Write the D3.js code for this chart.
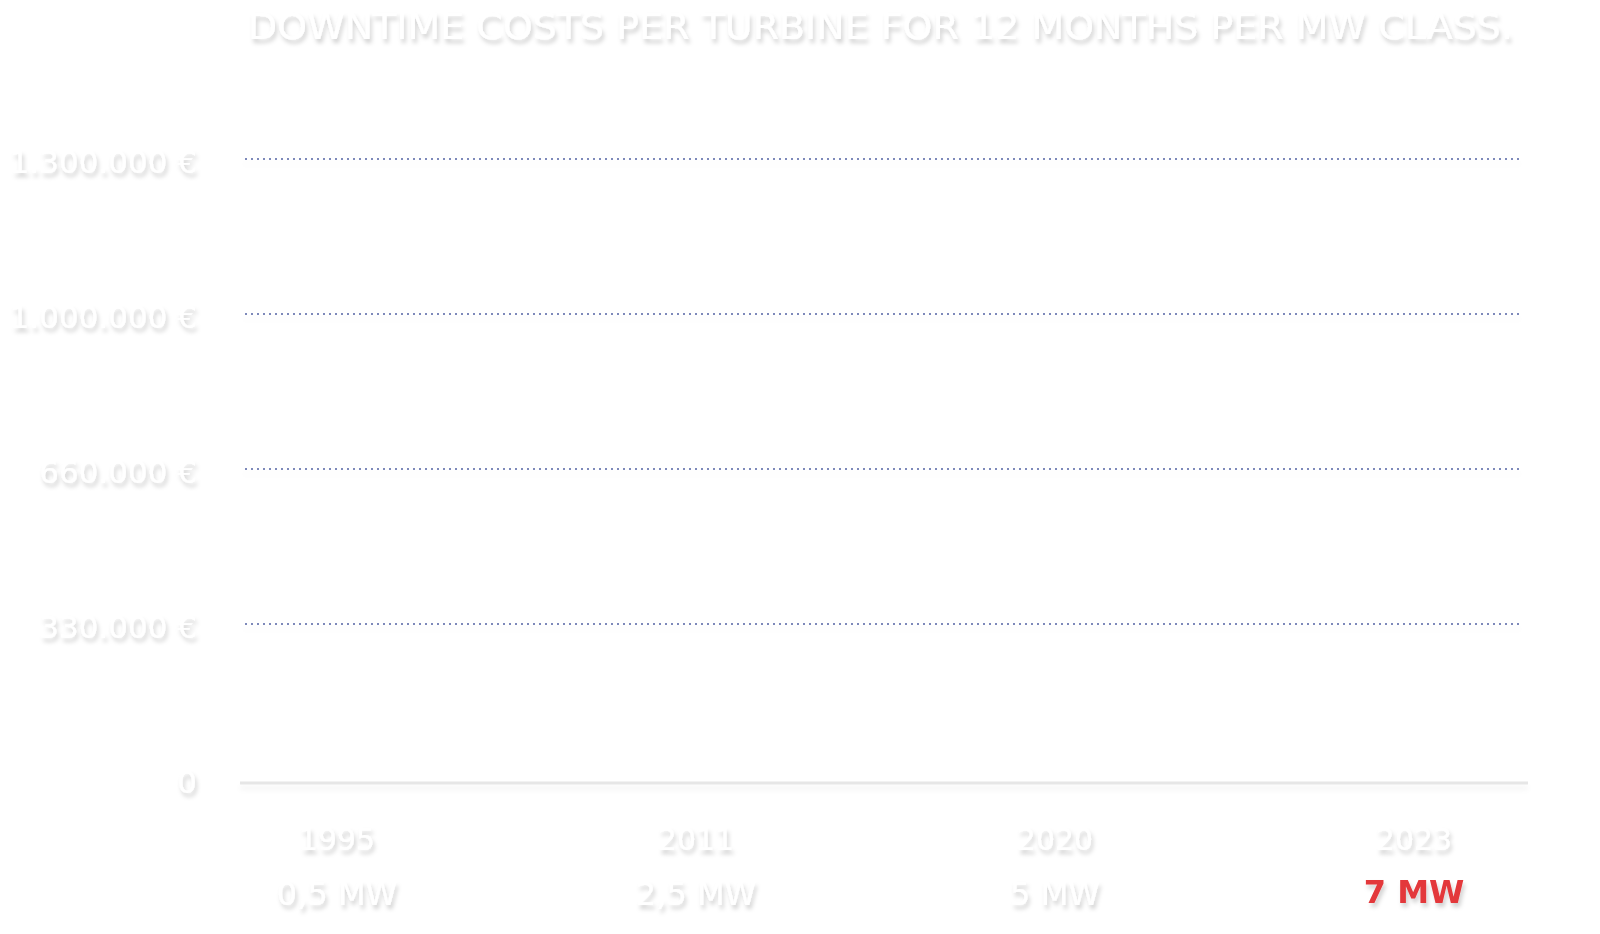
<!DOCTYPE html>
<html>
<head>
<meta charset="utf-8">
<script src="https://cdn.jsdelivr.net/npm/d3@7"></script>
<style>
  body { margin: 0; background: #fff; }
  svg { display: block; font-family: "DejaVu Sans", sans-serif; }
</style>
</head>
<body>
<script>
// chart data
const years = ["1995", "2011", "2020", "2023"];
const classes = ["0,5 MW", "2,5 MW", "5 MW", "7 MW"];
const yTicks = ["0", "330.000 €", "660.000 €", "1.000.000 €", "1.300.000 €"];
const highlight = "7 MW";
const title = "DOWNTIME COSTS PER TURBINE FOR 12 MONTHS PER MW CLASS.";

const width = 1600, height = 934;

const svg = d3.select("body").append("svg")
  .attr("width", width)
  .attr("height", height);

// soft drop shadow used on all the white text
const defs = svg.append("defs");
defs.append("filter")
  .attr("id", "shadow")
  .attr("x", "-20%").attr("y", "-40%")
  .attr("width", "140%").attr("height", "180%")
  .append("feDropShadow")
  .attr("dx", 2).attr("dy", 4)
  .attr("stdDeviation", 2.2)
  .attr("flood-color", "#000")
  .attr("flood-opacity", 0.18);

// lines have a zero-height bbox, so the filter region is in user space
defs.append("filter")
  .attr("id", "lineShadow")
  .attr("filterUnits", "userSpaceOnUse")
  .attr("x", 0).attr("y", 0)
  .attr("width", width).attr("height", height)
  .append("feDropShadow")
  .attr("dx", 0).attr("dy", 5)
  .attr("stdDeviation", 2.5)
  .attr("flood-color", "#000")
  .attr("flood-opacity", 0.05);

// scales
const y = d3.scalePoint()
  .domain(yTicks)
  .range([779, 159]);

const x = d3.scalePoint()
  .domain(years)
  .range([337, 1414]);

// title
svg.append("text")
  .attr("x", 248)
  .attr("y", 39)
  .attr("textLength", 1265)
  .attr("lengthAdjust", "spacingAndGlyphs")
  .attr("font-size", 35)
  .attr("fill", "#fff")
  .attr("filter", "url(#shadow)")
  .text(title);

// dotted gridlines
svg.append("g")
  .selectAll("line")
  .data(yTicks.slice(1))
  .join("line")
  .attr("x1", 245)
  .attr("x2", 1520)
  .attr("y1", d => y(d))
  .attr("y2", d => y(d))
  .attr("stroke", "#7d89ba")
  .attr("stroke-width", 2)
  .attr("stroke-dasharray", "2,4")
  .attr("filter", "url(#lineShadow)");

// base line, sits a little below the zero step
svg.append("line")
  .attr("x1", 240)
  .attr("x2", 1528)
  .attr("y1", y("0") + 4)
  .attr("y2", y("0") + 4)
  .attr("stroke", "#e6e6e6")
  .attr("stroke-width", 3)
  .attr("filter", "url(#lineShadow)");

// y labels
svg.append("g")
  .selectAll("text")
  .data(yTicks)
  .join("text")
  .attr("x", 197)
  .attr("y", d => y(d) + 14)
  .attr("text-anchor", "end")
  .attr("font-size", 31)
  .attr("fill", "#fff")
  .attr("filter", "url(#shadow)")
  .text(d => d);

// x labels: year and MW class
const xg = svg.append("g");
xg.selectAll("text.year")
  .data(years)
  .join("text")
  .attr("class", "year")
  .attr("x", d => x(d))
  .attr("y", 850)
  .attr("text-anchor", "middle")
  .attr("font-size", 30)
  .attr("fill", "#fff")
  .attr("filter", "url(#shadow)")
  .text(d => d);

xg.selectAll("text.mw")
  .data(classes)
  .join("text")
  .attr("class", "mw")
  .attr("x", (d, i) => x(years[i]))
  .attr("y", d => d === highlight ? 903 : 905)
  .attr("text-anchor", "middle")
  .attr("font-size", 32)
  .attr("font-weight", d => d === highlight ? "bold" : "normal")
  .attr("fill", d => d === highlight ? "#e3373a" : "#fff")
  .attr("filter", "url(#shadow)")
  .text(d => d);
</script>
</body>
</html>
